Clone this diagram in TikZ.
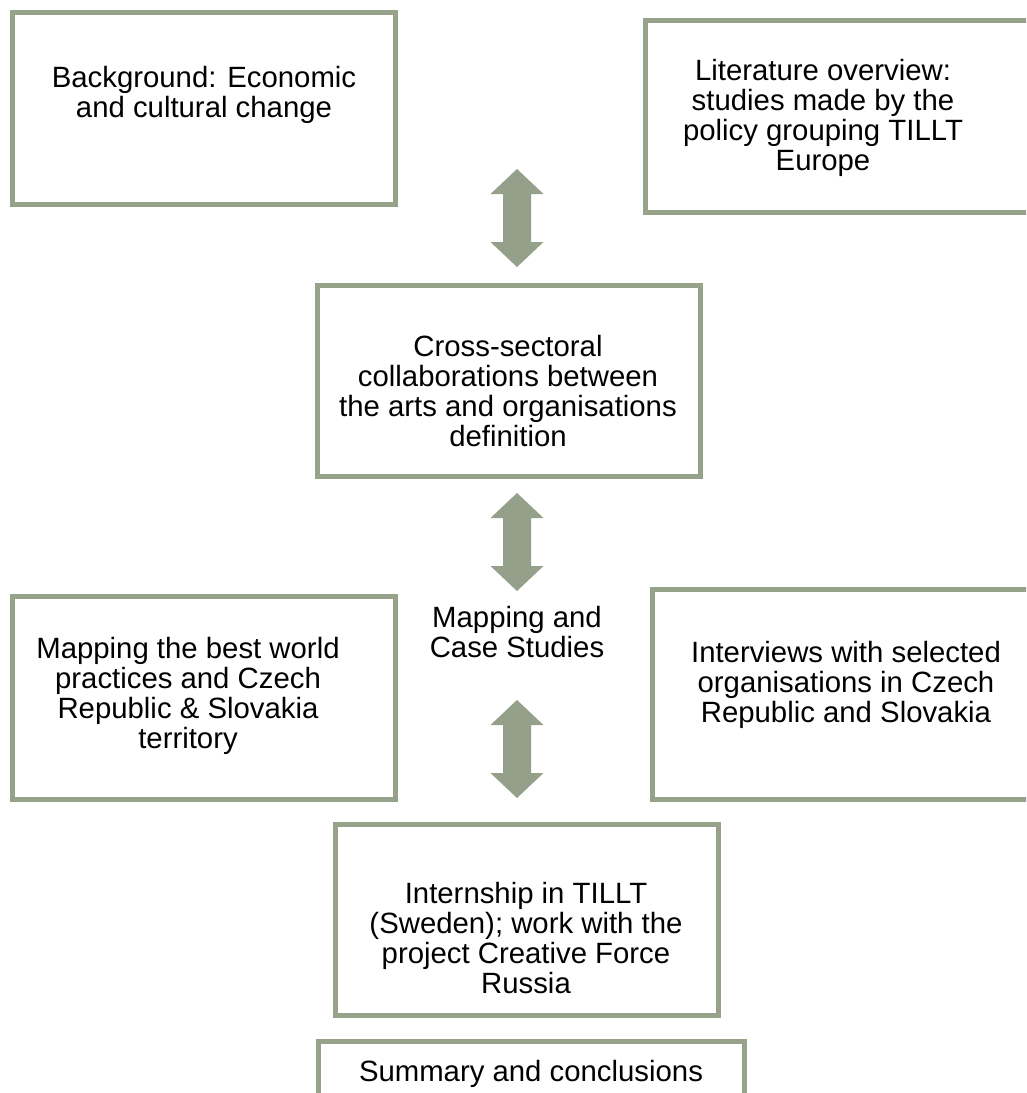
\documentclass[tikz,border=0pt]{standalone}
\usepackage{fontspec}
\setmainfont{Liberation Sans}
\definecolor{sage}{HTML}{97A28B}
\definecolor{arrowc}{HTML}{95A08A}
\begin{document}
\begin{tikzpicture}[x=0.75pt,y=-0.75pt,
  box/.style={draw=sage, line width=3.75pt, inner sep=0pt, fill=white},
  txt/.style={align=center, font=\fontsize{22}{22.5}\selectfont, inner sep=0pt},
  dbl/.pic={\fill[arrowc] (0,-49) -- (26.5,-24) -- (14,-24) -- (14,24) -- (26.5,24)
        -- (0,49) -- (-26.5,24) -- (-14,24) -- (-14,-24) -- (-26.5,-24) -- cycle;}
]
\useasboundingbox (0,0) rectangle (1026,1093);
\fill[white] (0,0) rectangle (1026,1093);
\clip (0,0) rectangle (1026,1093);

% boxes
\node[box, minimum width=287.6pt, minimum height=144pt] (b1) at (204.25,108.5) {};
\node[box, minimum width=295.9pt, minimum height=144pt] (b2) at (842.75,116.5) {};
\node[box, minimum width=286.9pt, minimum height=143.25pt] (b3) at (508.75,380.5) {};
\node[box, minimum width=287.25pt, minimum height=152.25pt] (b4) at (204,698) {};
\node[box, minimum width=290.6pt, minimum height=157.5pt] (b5) at (846.25,694.5) {};
\node[box, minimum width=287.25pt, minimum height=142.9pt] (b6) at (526.5,919.75) {};
\node[box, minimum width=319.5pt, minimum height=119.25pt] (b7) at (531,1120.5) {};

% texts
\node[txt] (t1) at (204,95) {Background: Economic\\and cultural change};
\node[txt] (t2) at (823,118) {Literature overview:\\studies made by the\\policy grouping TILLT\\Europe};
\node[txt] (t3) at (508,391) {Cross-sectoral\\collaborations between\\the arts and organisations\\definition};
\node[txt] (t4) at (188,696) {Mapping the best world\\practices and Czech\\Republic \& Slovakia\\territory};
\node[txt] (t5) at (846,685) {Interviews with selected\\organisations in Czech\\Republic and Slovakia};
\node[txt] (t6) at (526,938) {Internship in TILLT\\(Sweden); work with the\\project Creative Force\\Russia};
\node[txt] (tm) at (517,632) {Mapping and\\Case Studies};
\node[txt] (t7) at (531,1074) {Summary and conclusions};

% double block arrows
\pic (a1) at (517,218) {dbl};
\pic (a2) at (517,542) {dbl};
\pic (a3) at (517,749) {dbl};
\end{tikzpicture}
\end{document}
